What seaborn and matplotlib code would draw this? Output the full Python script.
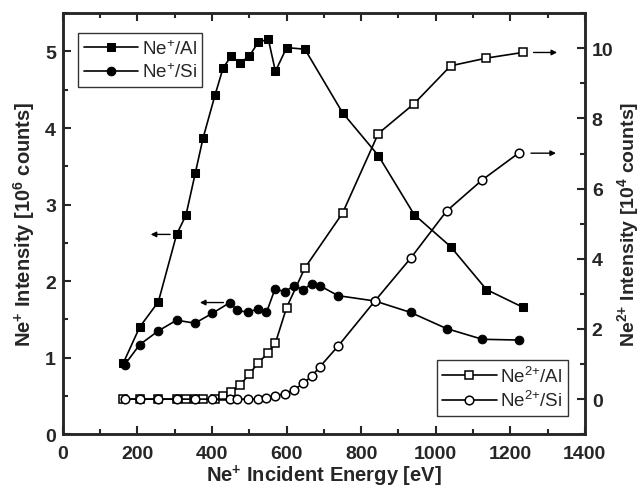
import numpy as np
import pandas as pd
import seaborn as sns
import matplotlib.pyplot as plt
from matplotlib.ticker import MultipleLocator

# Ne+ / Al (left axis, 10^6 counts)
e_al = [162, 206, 256, 305, 330, 355, 376, 408, 430, 452, 475, 500, 524, 551, 570,
        600, 649, 750, 846, 942, 1040, 1136, 1233]
ne1_al = [0.93, 1.40, 1.73, 2.61, 2.86, 3.41, 3.87, 4.43, 4.79, 4.94, 4.85, 4.94, 5.12, 5.16, 4.74,
          5.05, 5.03, 4.20, 3.64, 2.87, 2.45, 1.89, 1.66]
# Ne2+ / Al (right axis, 10^4 counts)
ne2_al = [0, 0, 0, 0, 0, 0, 0, 0, 0.09, 0.19, 0.40, 0.71, 1.04, 1.32, 1.60,
          2.61, 3.74, 5.30, 7.57, 8.42, 9.50, 9.72, 9.88]

# Ne+ / Si and Ne2+ / Si
e_si = [166, 206, 256, 305, 354, 401, 448, 467, 497, 522, 546, 569, 595, 620, 644,
        667, 689, 738, 837, 933, 1029, 1125, 1222]
ne1_si = [0.91, 1.17, 1.35, 1.49, 1.45, 1.58, 1.72, 1.62, 1.59, 1.64, 1.59, 1.90, 1.86, 1.94, 1.89,
          1.96, 1.94, 1.81, 1.74, 1.59, 1.38, 1.24, 1.23]
ne2_si = [0, 0, 0, 0, 0, 0, 0, 0, 0, 0, 0.03, 0.09, 0.16, 0.26, 0.45,
          0.65, 0.92, 1.51, 2.80, 4.02, 5.36, 6.25, 7.01]

df_al = pd.DataFrame({"E": e_al, "ne1": ne1_al, "ne2": ne2_al})
df_si = pd.DataFrame({"E": e_si, "ne1": ne1_si, "ne2": ne2_si})

sns.set_style("ticks")
plt.rcParams['font.family'] = ['Liberation Sans', 'DejaVu Sans']
plt.rcParams['mathtext.default'] = 'regular'

fig = plt.figure(figsize=(6.42, 4.89), dpi=100)
ax = fig.add_axes([0.098, 0.110, 0.813, 0.861])
ax2 = ax.twinx()

lw = 1.2
ms = 5.6
sns.lineplot(data=df_al, x="E", y="ne1", ax=ax, color="black", lw=lw, marker="s",
             markersize=ms, markeredgecolor="black", label=r"Ne$^{+}$/Al")
sns.lineplot(data=df_si, x="E", y="ne1", ax=ax, color="black", lw=lw, marker="o",
             markersize=ms + 0.6, markeredgecolor="black", label=r"Ne$^{+}$/Si")
sns.lineplot(data=df_al, x="E", y="ne2", ax=ax2, color="black", lw=lw, marker="s",
             markersize=ms, markerfacecolor="white", markeredgecolor="black",
             markeredgewidth=1.1, label=r"Ne$^{2{+}}$/Al")
sns.lineplot(data=df_si, x="E", y="ne2", ax=ax2, color="black", lw=lw, marker="o",
             markersize=ms + 0.6, markerfacecolor="white", markeredgecolor="black",
             markeredgewidth=1.1, label=r"Ne$^{2{+}}$/Si")

# arrows showing which axis each series belongs to
arw = dict(arrowstyle="-|>", color="black", lw=1.0, mutation_scale=8)
ax.annotate("", xy=(e_al[3] - 77, ne1_al[3]), xytext=(e_al[3] - 10, ne1_al[3]), arrowprops=arw)
ax.annotate("", xy=(e_si[6] - 88, ne1_si[6]), xytext=(e_si[6] - 10, ne1_si[6]), arrowprops=arw)
ax2.annotate("", xy=(e_al[-1] + 100, ne2_al[-1]), xytext=(e_al[-1] + 22, ne2_al[-1]), arrowprops=arw)
ax2.annotate("", xy=(e_si[-1] + 108, ne2_si[-1]), xytext=(e_si[-1] + 26, ne2_si[-1]), arrowprops=arw)

ax.set_xlim(0, 1400)
ax.set_ylim(0, 5.5)
ax2.set_ylim(-1, 11)
ax.xaxis.set_major_locator(MultipleLocator(200))
ax.xaxis.set_minor_locator(MultipleLocator(100))
ax.yaxis.set_major_locator(MultipleLocator(1))
ax.yaxis.set_minor_locator(MultipleLocator(0.5))
ax2.yaxis.set_major_locator(MultipleLocator(2))
ax2.yaxis.set_minor_locator(MultipleLocator(1))

for a in (ax, ax2):
    for s in a.spines.values():
        s.set_linewidth(1.8)
    a.tick_params(which="both", direction="in", width=1.5, labelsize=14, pad=5)
    a.tick_params(which="major", length=6)
    a.tick_params(which="minor", length=3.5)
    for t in a.get_xticklabels() + a.get_yticklabels():
        t.set_fontweight("bold")
ax.tick_params(axis="x", which="both", top=True, pad=8)
ax.tick_params(axis="y", which="both", right=False)

ax.set_xlabel(r"Ne$^{+}$ Incident Energy [eV]", fontsize=14.5, fontweight="bold", labelpad=0)
ax.set_ylabel(r"Ne$^{+}$ Intensity [10$^{6}$ counts]", fontsize=14.5, fontweight="bold", labelpad=6)
ax2.set_ylabel(r"Ne$^{2{+}}$ Intensity [10$^{4}$ counts]", fontsize=14, fontweight="bold", labelpad=1)

leg1 = ax.legend(loc="upper left", bbox_to_anchor=(0.029, 0.952), fontsize=13.5, frameon=True,
                 fancybox=False, edgecolor="black", handlelength=2.9, handletextpad=0.2,
                 borderpad=0.3, labelspacing=0.25, borderaxespad=0)
leg1.get_frame().set_linewidth(1.0)
leg2 = ax2.legend(loc="lower right", bbox_to_anchor=(0.968, 0.043), fontsize=13.5, frameon=True,
                  fancybox=False, edgecolor="black", handlelength=2.9, handletextpad=0.2,
                  borderpad=0.3, labelspacing=0.25, borderaxespad=0)
leg2.get_frame().set_linewidth(1.0)

fig.savefig("out.png", dpi=100)
